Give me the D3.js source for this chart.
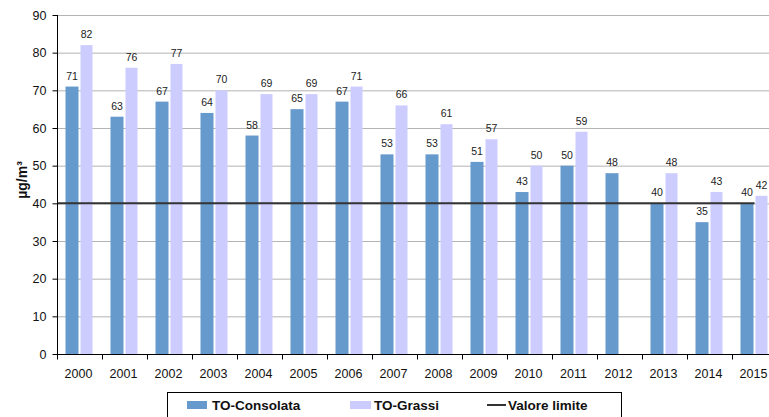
<!DOCTYPE html>
<html><head><meta charset="utf-8">
<script src="https://cdn.jsdelivr.net/npm/d3@7"></script>
<style>body{margin:0;background:#fff}svg{display:block;font-family:"Liberation Sans",Arial,sans-serif}</style>
</head><body><svg id="c" width="769" height="417"></svg>
<script>
const years = ["2000","2001","2002","2003","2004","2005","2006","2007","2008","2009","2010","2011","2012","2013","2014","2015"];
const consolata = [71,63,67,64,58,65,67,53,53,51,43,50,48,40,35,40];
const grassi = [82,76,77,70,69,69,71,66,61,57,50,59,null,48,43,42];
const limitValue = 40;
const yTicks = [0,10,20,30,40,50,60,70,80,90];
const seriesNames = ["TO-Consolata","TO-Grassi","Valore limite"];
const colors = {c:"#6699cc", g:"#ccccff", line:"#333333"};

const svg = d3.select("#c");
const m = {l:57, t:15, b:354, r:777};
const x = d3.scaleBand().domain(years).range([m.l, m.r]).paddingInner(0).paddingOuter(0);
const y = d3.scaleLinear().domain([0,90]).range([m.b, m.t]);
const bw = 13, gap = 2;

// gridlines
svg.append("g").selectAll("line").data(yTicks.filter(d=>d>0)).join("line")
  .attr("x1", m.l).attr("x2", m.r).attr("y1", d=>y(d)+0.5).attr("y2", d=>y(d)+0.5)
  .attr("stroke", "#b4b4b4").attr("stroke-width", 1);

const off = (x.bandwidth() - (2*bw+gap))/2;
// bars
svg.append("g").selectAll("rect").data(consolata.map((v,i)=>({v, yr:years[i]}))).join("rect")
  .attr("x", d=>x(d.yr)+off).attr("width", bw)
  .attr("y", d=>y(d.v)).attr("height", d=>y(0)-y(d.v)).attr("fill", colors.c);
svg.append("g").selectAll("rect").data(grassi.map((v,i)=>({v, yr:years[i]})).filter(d=>d.v!=null)).join("rect")
  .attr("x", d=>x(d.yr)+off+bw+gap).attr("width", bw-1)
  .attr("y", d=>y(d.v)).attr("height", d=>y(0)-y(d.v)).attr("fill", colors.g);

// labels
const lab = svg.append("g").attr("font-size", 10.5).attr("fill", "#222").attr("text-anchor","middle");
consolata.forEach((v,i)=>{
  lab.append("text").attr("x", x(years[i])+off+bw/2).attr("y", y(v)-7).text(v);
});
grassi.forEach((v,i)=>{
  if(v==null) return;
  lab.append("text").attr("x", x(years[i])+off+bw+gap+(bw-1)/2).attr("y", y(v)-7).text(v);
});

// limit line
svg.append("line").attr("x1", m.l).attr("x2", x(years[15])+off+bw+1)
  .attr("y1", y(limitValue)).attr("y2", y(limitValue))
  .attr("stroke", colors.line).attr("stroke-width", 2);

// y axis
const ya = svg.append("g").attr("transform", `translate(${m.l+0.5},0)`)
  .call(d3.axisLeft(y).tickValues(yTicks).tickSize(5).tickPadding(6));
ya.select(".domain").attr("stroke","#000").attr("d", `M0,${m.t}V${m.b}`);
ya.selectAll(".tick line").attr("stroke","#000");
ya.selectAll("text").attr("font-size", 12.5).attr("fill","#111").attr("font-family","Liberation Sans, Arial, sans-serif");

// x axis
const xa = svg.append("g").attr("transform", `translate(0,${m.b+0.5})`);
xa.append("line").attr("x1", m.l).attr("x2", m.r).attr("stroke","#000");
const bounds = years.map(d=>x(d)).concat([m.r]);
xa.selectAll(".tk").data(bounds).join("line").attr("class","tk")
  .attr("x1", d=>Math.round(d)+0.5).attr("x2", d=>Math.round(d)+0.5).attr("y1",0).attr("y2",5).attr("stroke","#000");
xa.selectAll("text").data(years).join("text")
  .attr("x", d=>x(d)+x.bandwidth()/2-1).attr("y", 23).attr("text-anchor","middle")
  .attr("font-size", 12.5).attr("fill","#111").text(d=>d);

// y label
svg.append("text").attr("transform","translate(27,180) rotate(-90)").attr("text-anchor","middle")
  .attr("font-size", 14).attr("font-weight","bold").attr("fill","#111").text("µg/m³");

// legend
const lg = svg.append("g");
lg.append("rect").attr("x",167.5).attr("y",392.5).attr("width",454).attr("height",30)
  .attr("fill","#fff").attr("stroke","#000");
const ly = 405;
lg.append("rect").attr("x",187).attr("y",401).attr("width",20).attr("height",8).attr("fill",colors.c);
lg.append("text").attr("x",212).attr("y",ly+5).attr("font-size",13.5).attr("font-weight","bold").attr("fill","#111").text(seriesNames[0]);
lg.append("rect").attr("x",350).attr("y",401).attr("width",21).attr("height",8).attr("fill",colors.g);
lg.append("text").attr("x",374).attr("y",ly+5).attr("font-size",13.5).attr("font-weight","bold").attr("fill","#111").text(seriesNames[1]);
lg.append("line").attr("x1",487).attr("x2",506).attr("y1",ly).attr("y2",ly).attr("stroke",colors.line).attr("stroke-width",2);
lg.append("text").attr("x",508).attr("y",ly+5).attr("font-size",13.5).attr("font-weight","bold").attr("fill","#111").text(seriesNames[2]);
</script></body></html>
